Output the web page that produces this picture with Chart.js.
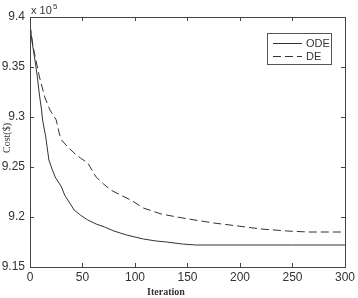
<!DOCTYPE html>
<html><head><meta charset="utf-8">
<script src="https://cdn.jsdelivr.net/npm/chart.js@4"></script>
<style>html,body{margin:0;padding:0;background:#fff}#c{display:block}</style>
</head><body>
<canvas id="c" width="358" height="298"></canvas>
<script>
const odeIter = [0,2,5,7,9,11,12,15,18,21,24,30,33,36,42,48,55,63,71,80,92,100,108,120,130,145,158,200,250,300];
const odeCost = [9.392,9.375,9.355,9.34,9.322,9.307,9.297,9.28,9.257,9.248,9.24,9.23,9.222,9.217,9.207,9.202,9.197,9.193,9.19,9.186,9.182,9.18,9.178,9.176,9.175,9.173,9.172,9.172,9.172,9.172];
const deIter = [0,3,6,9,14,19,25,28,30,36,42,48,55,63,70,77,86,96,108,125,140,151,175,198,220,245,265,300];
const deCost = [9.392,9.37,9.355,9.34,9.32,9.307,9.297,9.283,9.277,9.27,9.264,9.259,9.254,9.24,9.233,9.227,9.222,9.217,9.209,9.203,9.2,9.198,9.194,9.191,9.188,9.186,9.185,9.185];
const xTicks = [0,50,100,150,200,250,300];
const yTicks = [9.15,9.2,9.25,9.3,9.35,9.4];
const seriesNames = ['ODE','DE'];
const xTitle = 'Iteration';
const yTitle = 'Cost($)';

const ink = '#333';
const pts = (xs, ys) => xs.map((x,i)=>({x:x,y:ys[i]}));

const frame = {
  id:'frame',
  afterDraw(chart){
    const {ctx, chartArea:a, scales:{x,y}} = chart;
    ctx.save();
    ctx.strokeStyle = '#444'; ctx.lineWidth = 1;
    ctx.strokeRect(Math.round(a.left)+0.5, Math.round(a.top)+0.5, Math.round(a.right-a.left), Math.round(a.bottom-a.top));
    ctx.beginPath();
    xTicks.forEach(v=>{const px=Math.round(x.getPixelForValue(v))+0.5;
      ctx.moveTo(px,a.bottom); ctx.lineTo(px,a.bottom-4);
      ctx.moveTo(px,a.top); ctx.lineTo(px,a.top+4);});
    yTicks.forEach(v=>{const py=Math.round(y.getPixelForValue(v))+0.5;
      ctx.moveTo(a.left,py); ctx.lineTo(a.left+4,py);
      ctx.moveTo(a.right,py); ctx.lineTo(a.right-4,py);});
    ctx.stroke();
    // multiplier
    ctx.fillStyle = ink;
    ctx.font = '11px "Liberation Sans", Arial, sans-serif';
    ctx.textBaseline = 'alphabetic'; ctx.textAlign='left';
    ctx.fillText('x 10', a.left+1, a.top-3);
    ctx.font = '8px "Liberation Sans", Arial, sans-serif';
    ctx.fillText('5', a.left+23, a.top-8);
    // axis titles
    ctx.textAlign='center'; ctx.textBaseline='middle';
    ctx.font = 'bold 10px "Liberation Serif", "Times New Roman", serif';
    ctx.fillText(xTitle, 166, 292);
    ctx.save();
    ctx.translate(7,138); ctx.rotate(-Math.PI/2);
    ctx.font = '10px "Liberation Serif", "Times New Roman", serif';
    ctx.fillText(yTitle, 0, 0);
    ctx.restore();
    // legend
    const lx=267, ly=33, lw=64, lh=31;
    ctx.fillStyle='#fff'; ctx.fillRect(lx,ly,lw,lh);
    ctx.strokeStyle='#555'; ctx.strokeRect(lx+0.5,ly+0.5,lw,lh);
    ctx.strokeStyle=ink; ctx.lineWidth=1;
    ctx.beginPath(); ctx.moveTo(273,43.5); ctx.lineTo(302,43.5); ctx.stroke();
    ctx.setLineDash([8,4]);
    ctx.beginPath(); ctx.moveTo(273,56.5); ctx.lineTo(302,56.5); ctx.stroke();
    ctx.setLineDash([]);
    ctx.fillStyle=ink; ctx.font='11px "Liberation Sans", Arial, sans-serif';
    ctx.textAlign='left'; ctx.textBaseline='middle';
    ctx.fillText(seriesNames[0],306,44);
    ctx.fillText(seriesNames[1],306,57);
    ctx.restore();
  }
};

new Chart(document.getElementById('c'), {
  type:'line',
  data:{datasets:[
    {label:seriesNames[0], data:pts(odeIter,odeCost), borderColor:ink, borderWidth:1, pointRadius:0, tension:0, fill:false},
    {label:seriesNames[1], data:pts(deIter,deCost), borderColor:ink, borderWidth:1, borderDash:[8,4], pointRadius:0, tension:0, fill:false}
  ]},
  options:{
    responsive:false, animation:false, devicePixelRatio:1,
    layout:{padding:{left:0,right:10,top:17,bottom:0}},
    plugins:{legend:{display:false}, tooltip:{enabled:false}},
    scales:{
      x:{type:'linear', min:0, max:300,
        afterBuildTicks:s=>{s.ticks=xTicks.map(v=>({value:v}));},
        afterFit:s=>{s.height=31;},
        grid:{display:false, drawTicks:false}, border:{display:false},
        ticks:{color:ink, padding:3, maxRotation:0, font:{size:12, family:'"Liberation Sans", Arial, sans-serif'}},
        title:{display:false}
      },
      y:{type:'linear', min:9.15, max:9.4,
        afterBuildTicks:s=>{s.ticks=yTicks.map(v=>({value:v}));},
        afterFit:s=>{s.width=30;},
        grid:{display:false, drawTicks:false}, border:{display:false},
        ticks:{color:ink, padding:5, font:{size:12, family:'"Liberation Sans", Arial, sans-serif'}, callback:v=>String(+v.toFixed(2))},
        title:{display:false}
      }
    }
  },
  plugins:[frame]
});
</script>
</body></html>
